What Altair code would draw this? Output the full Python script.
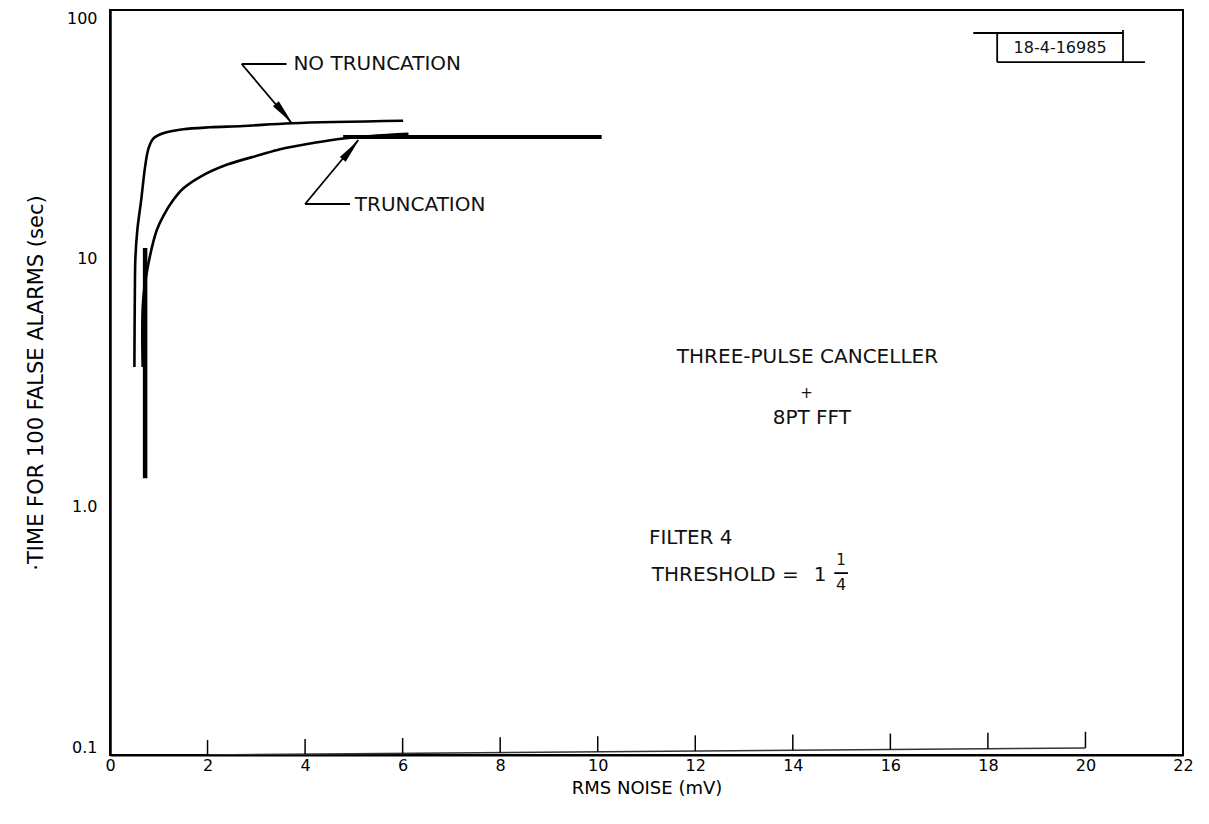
import altair as alt
import pandas as pd

FONT = "DejaVu Sans"

# ---- curve data ----
notrunc_x = [0.50, 0.51, 0.52, 0.56, 0.64, 0.72, 0.79, 0.89, 1.09, 1.50, 2.05, 2.73, 3.73, 6.01]
notrunc_y = [3.65, 7.45, 9.94, 13.0, 17.2, 23.4, 27.7, 30.4, 31.9, 33.1, 33.7, 34.1, 35.0, 35.8]

trunc_x = [0.67, 0.68, 0.79, 0.96, 1.10, 1.30, 1.50, 1.85, 2.39, 3.08, 3.49, 4.10, 4.78, 6.12]
trunc_y = [3.65, 6.79, 9.57, 13.0, 14.9, 17.2, 19.1, 21.3, 23.8, 26.1, 27.5, 29.0, 30.4, 31.7]

# flat (heavy) segment of the truncation curve
flat_x = [4.78]
flat_x2 = [10.08]
flat_y = [30.8]

# heavy vertical bar near the origin
bar_x = [0.72]
bar_y = [11.0]
bar_y2 = [1.30]

# skewed scale overlay along the bottom axis
tick_x = [2, 4, 6, 8, 10, 12, 14, 16, 18, 20]
tick_base = [0.100, 0.1007, 0.1015, 0.1022, 0.1030, 0.1037, 0.1045, 0.1052, 0.1060, 0.1068]
tick_top = [0.115, 0.116, 0.117, 0.118, 0.119, 0.120, 0.121, 0.122, 0.123, 0.124]

# x-axis tick labels / y-axis tick values
x_ticks = [0, 2, 4, 6, 8, 10, 12, 14, 16, 18, 20, 22]
y_ticks = [0.1, 1, 10, 100]

# annotation leader lines and arrows (x, y, x2, y2)
seg_x = [2.70, 2.70, 4.00, 4.00]
seg_y = [60.6, 60.6, 16.55, 16.55]
seg_x2 = [3.62, 3.726, 4.92, 5.09]
seg_y2 = [60.6, 35.0, 16.55, 29.95]

head_x = [3.57, 4.94]
head_y = [38.3, 27.4]
head_angle = [139.8, 39.8]

# annotation texts
lt_text = ["NO TRUNCATION", "TRUNCATION", "FILTER 4", "THRESHOLD  ="]
lt_x = [3.76, 5.02, 11.05, 11.11]
lt_y = [60.6, 16.4, 0.745, 0.530]
lt_size = [20, 20, 20, 20]

ct_text = ["THREE-PULSE  CANCELLER", "+", "8PT FFT", "1", "1", "4", "18-4-16985"]
ct_x = [14.30, 14.28, 14.39, 14.56, 14.99, 14.99, 19.48]
ct_y = [4.02, 2.86, 2.27, 0.530, 0.612, 0.484, 70.3]
ct_size = [20, 15, 20, 20, 15, 16, 16]

# fraction bar and the drawing-number box
box_x = [14.85, 17.70, 18.19, 18.19, 20.77]
box_y = [0.540, 80.8, 61.7, 80.8, 83.0]
box_x2 = [15.13, 20.77, 21.22, 18.19, 20.77]
box_y2 = [0.540, 80.8, 61.7, 61.7, 61.7]

# ---- scales / axes ----
xscale = alt.Scale(domain=[0, 22], nice=False, zero=False)
yscale = alt.Scale(type="log", domain=[0.1, 100], nice=False)

x_axis = alt.Axis(
    values=x_ticks, title="RMS NOISE (mV)", grid=False, ticks=False,
    domainColor="black", domainWidth=2, labelFontSize=16, labelColor="black",
    labelPadding=2, labelFlush=False, labelFont=FONT, titleFont=FONT,
    titleFontSize=18, titleFontWeight="normal", titleColor="black", titlePadding=6,
)
y_axis = alt.Axis(
    values=y_ticks,
    labelExpr="datum.value >= 10 ? format(datum.value, 'd') : format(datum.value, '.1f')",
    title="·TIME FOR 100 FALSE ALARMS (sec)", grid=False, ticks=False,
    domainColor="black", domainWidth=2.5, labelFontSize=16, labelColor="black",
    labelPadding=13, labelFlush=True, labelFont=FONT, titleFont=FONT, titleFontSize=21,
    titleFontWeight="normal", titleColor="black", titlePadding=20,
)


def X(f):
    return alt.X(f, type="quantitative", scale=xscale, axis=x_axis)


def Y(f):
    return alt.Y(f, type="quantitative", scale=yscale, axis=y_axis)


rows = []
for i, (a, b) in enumerate(zip(notrunc_x, notrunc_y)):
    rows.append({"series": "no truncation", "i": i, "x": a, "y": b})
for i, (a, b) in enumerate(zip(trunc_x, trunc_y)):
    rows.append({"series": "truncation", "i": i, "x": a, "y": b})
curves_df = pd.DataFrame(rows)

curves = alt.Chart(curves_df).mark_line(
    color="black", strokeWidth=2.6, interpolate="catmull-rom"
).encode(x=X("x"), y=Y("y"), detail="series:N", order="i:Q")

flat = alt.Chart(pd.DataFrame({"x": flat_x, "x2": flat_x2, "y": flat_y})).mark_rule(
    color="black", strokeWidth=4
).encode(x=X("x"), x2="x2:Q", y=Y("y"))

bar = alt.Chart(pd.DataFrame({"x": bar_x, "y": bar_y, "y2": bar_y2})).mark_rule(
    color="black", strokeWidth=4.5
).encode(x=X("x"), y=Y("y"), y2="y2:Q")

ticks = alt.Chart(pd.DataFrame({"x": tick_x, "y": tick_base, "y2": tick_top})).mark_rule(
    color="black", strokeWidth=1.5, clip=True
).encode(x=X("x"), y=Y("y"), y2="y2:Q")

overlay = alt.Chart(pd.DataFrame({
    "x": [tick_x[0]], "x2": [tick_x[-1]], "y": [tick_base[0]], "y2": [tick_base[-1]]
})).mark_rule(color="#333333", strokeWidth=1.5, clip=True).encode(
    x=X("x"), x2="x2:Q", y=Y("y"), y2="y2:Q"
)

segs = alt.Chart(pd.DataFrame({"x": seg_x, "y": seg_y, "x2": seg_x2, "y2": seg_y2})).mark_rule(
    color="black", strokeWidth=1.8
).encode(x=X("x"), y=Y("y"), x2="x2:Q", y2="y2:Q")

heads = alt.Chart(pd.DataFrame({"x": head_x, "y": head_y, "a": head_angle})).mark_point(
    shape="M0,-1L0.3,1L-0.3,1Z", filled=True, size=650, color="black", opacity=1
).encode(x=X("x"), y=Y("y"), angle=alt.Angle("a:Q", scale=None))

box = alt.Chart(pd.DataFrame({"x": box_x, "y": box_y, "x2": box_x2, "y2": box_y2})).mark_rule(
    color="black", strokeWidth=1.8
).encode(x=X("x"), y=Y("y"), x2="x2:Q", y2="y2:Q")

left_text = alt.Chart(pd.DataFrame({"t": lt_text, "x": lt_x, "y": lt_y, "s": lt_size})).mark_text(
    align="left", baseline="middle", font=FONT, color="#111111"
).encode(x=X("x"), y=Y("y"), text="t:N", size=alt.Size("s:Q", scale=None, legend=None))

center_text = alt.Chart(pd.DataFrame({"t": ct_text, "x": ct_x, "y": ct_y, "s": ct_size})).mark_text(
    align="center", baseline="middle", font=FONT, color="#111111"
).encode(x=X("x"), y=Y("y"), text="t:N", size=alt.Size("s:Q", scale=None, legend=None))

chart = alt.layer(
    curves, flat, bar, overlay, ticks, segs, heads, box, left_text, center_text
).properties(
    width=1073, height=745,
    autosize=alt.AutoSizeParams(type="none"),
    padding={"left": 102, "top": 2, "right": 18, "bottom": 61},
    background="white",
).configure_view(stroke="black", strokeWidth=2)

chart.save("out.html", embed_options={"renderer": "svg", "actions": False})
